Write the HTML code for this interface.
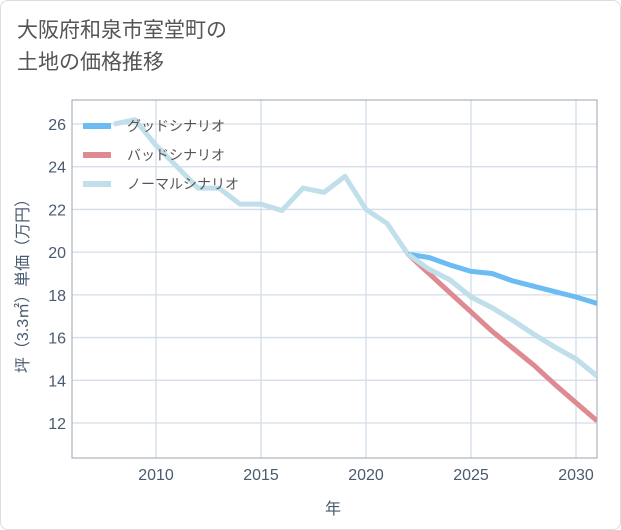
<!DOCTYPE html>
<html><head><meta charset="utf-8"><style>
body{margin:0;background:#fff;}
#card{position:absolute;left:0;top:0;width:619px;height:528px;border:1px solid #ddd;border-radius:8px;background:#fff;}
.t{font-family:"Liberation Sans","Noto Sans CJK JP",sans-serif;}
</style></head><body>
<div id="card">
<div class="t" style="position:absolute;left:16px;top:14px;font-size:21px;line-height:32px;color:#555;">大阪府和泉市室堂町の<br>土地の価格推移</div>
<svg id="svg" width="621" height="530" style="position:absolute;left:-1px;top:-1px"></svg>
</div>
<script>
const years=[2008,2009,2010,2011,2012,2013,2014,2015,2016,2017,2018,2019,2020,2021,2022,2023,2024,2025,2026,2027,2028,2029,2030,2031];
const normal=[26.0,26.2,25.0,24.0,23.0,23.0,22.25,22.25,21.95,23.0,22.8,23.55,22.0,21.35,19.9,19.2,18.7,17.9,17.4,16.8,16.15,15.55,15.0,14.2];
const goodYears=[2022,2023,2024,2025,2026,2027,2028,2029,2030,2031];
const good=[19.9,19.75,19.4,19.1,19.0,18.65,18.4,18.15,17.9,17.6];
const bad=[19.9,19.0,18.1,17.2,16.3,15.5,14.7,13.8,12.95,12.1];
const xTicks=[2010,2015,2020,2025,2030];
const yTicks=[12,14,16,18,20,22,24,26];
const L=72,R=597,T=100,B=458;
const x=v=>L+(v-2006)*(R-L)/25;
const y=v=>423-(v-12)*(423-124)/14;
const svg=document.getElementById('svg');const NS='http://www.w3.org/2000/svg';
function el(tag,attrs,parent){const e=document.createElementNS(NS,tag);for(const k in attrs)e.setAttribute(k,attrs[k]);(parent||svg).appendChild(e);return e;}
const clip=el('clipPath',{id:'pc'});el('rect',{x:L,y:T,width:R-L,height:B-T},clip);
xTicks.forEach(v=>{const g=el('line',{x1:x(v),x2:x(v),y1:T,y2:B,stroke:'#d3dde8','stroke-width':1.3});

const t=el('text',{x:x(v),y:480,'text-anchor':'middle','font-size':16,fill:'#4a5a70',class:'t'});t.textContent=v;
});
yTicks.forEach(v=>{const g=el('line',{x1:L,x2:R,y1:y(v),y2:y(v),stroke:'#d3dde8','stroke-width':1.3});

const t=el('text',{x:L-6,y:y(v)+6,'text-anchor':'end','font-size':16,fill:'#4a5a70',class:'t'});t.textContent=v;
});
const fr=el('rect',{x:L,y:T,width:R-L,height:B-T,fill:'none',stroke:'#9aa4b0','stroke-width':1});

function line(xs,vs,color,name){const p=el('polyline',{points:xs.map((v,i)=>x(v)+','+y(vs[i])).join(' '),fill:'none',stroke:color,'stroke-width':5,'stroke-linejoin':'round','clip-path':'url(#pc)'});
}
line(years,normal,'#c0dfea','normal-scenario-line');
line(goodYears,bad,'#de8a90','bad-scenario-line');
line(goodYears,good,'#6bbcf3','good-scenario-line');
// redraw normal post-2022 segment above bad? keep order as reference (normal above bad)
line(years.slice(14),normal.slice(14),'#c0dfea','normal-scenario-forecast-line');
const leg=[['グッドシナリオ','#6bbcf3'],['バッドシナリオ','#de8a90'],['ノーマルシナリオ','#c0dfea']];
leg.forEach((d,i)=>{const yy=126+i*29;
const s=el('line',{x1:83,x2:111,y1:yy,y2:yy,stroke:d[1],'stroke-width':6});

const t=el('text',{x:127,y:yy+5,'font-size':14,fill:'#555',class:'t'});t.textContent=d[0];
});
const yt=el('text',{x:0,y:0,'font-size':16,fill:'#4a5a70','text-anchor':'middle',class:'t',transform:'translate(28,282) rotate(-90)'});
yt.textContent='坪（3.3㎡）単価（万円）';
const xt=el('text',{x:333,y:514,'font-size':16,fill:'#4a5a70','text-anchor':'middle',class:'t'});
xt.textContent='年';
</script>
</body></html>
